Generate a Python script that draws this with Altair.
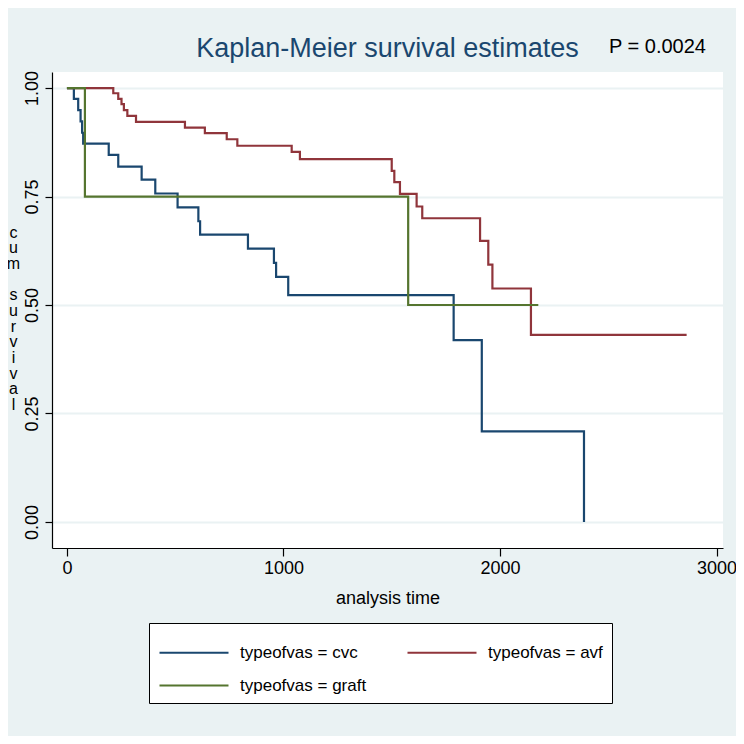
import altair as alt
import pandas as pd

# ---- data ----
cvc_time = [0, 32, 52, 63, 70, 75, 193, 237, 345, 408, 511, 607, 615, 836, 956, 966, 1022, 1786, 1916, 2388]
cvc_surv = [1.0, 0.975, 0.949, 0.923, 0.897, 0.872, 0.846, 0.819, 0.789, 0.757, 0.725, 0.693, 0.662, 0.630, 0.597, 0.565, 0.523, 0.419, 0.209, 0.0]

avf_time = [0, 214, 237, 252, 263, 279, 319, 545, 637, 738, 787, 1038, 1076, 1500, 1512, 1538, 1615, 1641, 1908, 1946, 1965, 2143, 2862]
avf_surv = [1.0, 0.988, 0.975, 0.963, 0.949, 0.936, 0.922, 0.909, 0.896, 0.882, 0.867, 0.853, 0.836, 0.809, 0.783, 0.756, 0.727, 0.700, 0.648, 0.593, 0.538, 0.431, 0.431]

graft_time = [0, 83, 1576, 2177]
graft_surv = [1.0, 0.75, 0.5, 0.5]

group_labels = ["typeofvas = cvc", "typeofvas = avf", "typeofvas = graft"]
group_colors = ["#1a476f", "#90353b", "#55752f"]

x_ticks = [0, 1000, 2000, 3000]
y_ticks = [0, 0.25, 0.5, 0.75, 1.0]
y_title = ["c", "u", "m", "\u200b", "s", "u", "r", "v", "i", "v", "a", "l"]
title_text = "Kaplan-Meier survival estimates"
p_text = ["P = 0.0024"]

rows = []
for name, ts, ss in zip(group_labels, [cvc_time, avf_time, graft_time], [cvc_surv, avf_surv, graft_surv]):
    for t, s in zip(ts, ss):
        rows.append({"group": name, "time": t, "surv": s})
df = pd.DataFrame(rows)

FONT = "Liberation Sans, Arial, sans-serif"
BG = "#eaf2f3"

lines = alt.Chart(df).mark_line(interpolate="step-after", strokeWidth=2.2).encode(
    x=alt.X("time:Q",
            scale=alt.Scale(domain=[-69, 3030], nice=False, zero=False),
            axis=alt.Axis(values=x_ticks, title="analysis time", grid=False, format="d",
                          tickSize=8, labelPadding=3, titlePadding=12)),
    y=alt.Y("surv:Q",
            scale=alt.Scale(domain=[-0.06, 1.037], nice=False, zero=False),
            axis=alt.Axis(values=y_ticks, format=".2f", title=y_title, grid=True,
                          gridColor=BG, gridWidth=2, tickSize=7,
                          labelAngle=270, labelAlign="center", labelBaseline="bottom",
                          labelPadding=4,
                          titleAngle=0, titleAlign="center", titleBaseline="top",
                          titleX=-39, titleY=152, titleFontSize=16, titleLineHeight=15.7)),
    color=alt.Color("group:N",
                    scale=alt.Scale(domain=group_labels, range=group_colors),
                    sort=group_labels,
                    legend=alt.Legend(title=" ", titleFontSize=12, titlePadding=0,
                                      orient="none", legendX=97, legendY=551,
                                      direction="horizontal", columns=2,
                                      fillColor="white", strokeColor="#000",
                                      padding=9, rowPadding=15, columnPadding=36,
                                      symbolType="M-1,0H8.857", symbolSize=196,
                                      symbolStrokeWidth=2,
                                      labelFontSize=17, labelOffset=65, labelLimit=300,
                                      labelFont=FONT, labelColor="#000")),
)

ptext = alt.Chart(pd.DataFrame({"label": p_text})).mark_text(
    align="left", baseline="middle", fontSize=20, font=FONT, color="#000"
).encode(text="label:N", x=alt.value(557), y=alt.value(-25))

chart = alt.layer(lines, ptext).properties(
    width=671, height=476,
    padding={"left": 44, "top": 64, "right": 13, "bottom": 188},
    autosize=alt.AutoSizeParams(type="none"),
    background=BG,
    title=alt.Title(title_text, fontSize=27, color="#1a476f", font=FONT,
                    fontWeight="normal", anchor="middle", offset=10, dy=36),
).configure_view(fill="white", stroke=None).configure_axis(
    domainColor="#000", domainWidth=1.2, tickColor="#000", tickWidth=1.2,
    labelFont=FONT, labelFontSize=18, labelColor="#000",
    titleFont=FONT, titleFontSize=18, titleColor="#000", titleFontWeight="normal",
)

chart.save("out.html", embed_options={"renderer": "svg", "actions": False})
